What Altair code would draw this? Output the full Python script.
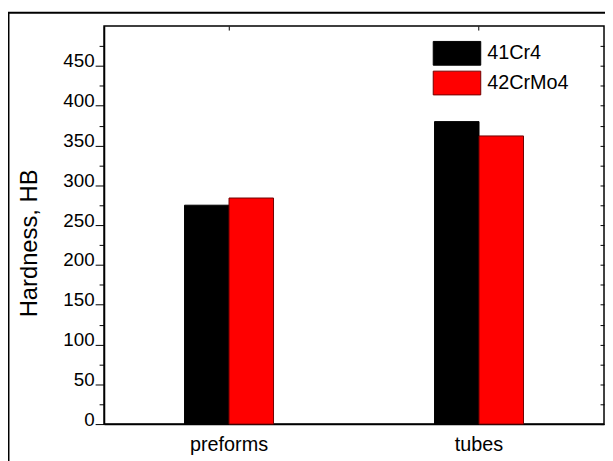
import altair as alt
import pandas as pd

categories = ["preforms", "tubes"]
series = ["41Cr4", "42CrMo4"]
hardness_41Cr4 = [275, 380]
hardness_42CrMo4 = [284, 362]
fill_colors = ["#000000", "#ff0000"]
stroke_colors = ["#000000", "#700000"]
y_tick_values = list(range(0, 500, 25))

rows = []
for i, c in enumerate(categories):
    rows.append({"sample": c, "steel": series[0], "hb": hardness_41Cr4[i]})
    rows.append({"sample": c, "steel": series[1], "hb": hardness_42CrMo4[i]})
df = pd.DataFrame(rows)

FONT = "Liberation Sans"
W, H = 505, 402

xscale = alt.Scale(domain=categories, paddingInner=0.644, paddingOuter=0.322)
yscale = alt.Scale(domain=[0, 500], nice=False, zero=True)
offscale = alt.Scale(domain=series, paddingInner=0, paddingOuter=0)

color = alt.Color(
    "steel:N",
    scale=alt.Scale(domain=series, range=fill_colors),
    legend=alt.Legend(
        title=None,
        orient="none",
        legendX=344,
        legendY=15,
        symbolType="M-2,-1H2V1H-2Z",
        symbolSize=576,
        symbolStrokeColor="#000000",
        symbolStrokeWidth=1,
        symbolOpacity=1,
        labelFont=FONT,
        labelFontSize=20,
        labelColor="#000000",
        labelOffset=18,
        padding=0,
        rowPadding=1,
    ),
)
stroke = alt.Stroke(
    "steel:N", scale=alt.Scale(domain=series, range=stroke_colors), legend=None
)

left_axis = alt.Axis(
    values=y_tick_values,
    labelExpr="datum.value % 50 === 0 ? datum.label : ''",
    tickSize=alt.condition("datum.value % 50 === 0", alt.value(9), alt.value(5)),
    tickColor="#000000",
    tickWidth=1,
    domainColor="#000000",
    domainWidth=1.5,
    grid=False,
    labelFont=FONT,
    labelFontSize=19,
    labelColor="#000000",
    labelPadding=1,
    labelBaseline="alphabetic",
    labelOffset=1,
    title="Hardness, HB",
    titleFont=FONT,
    titleFontSize=24,
    titleFontWeight="normal",
    titleColor="#000000",
    titleAngle=270,
    titleX=-75,
    titleY=219,
    titleAlign="center",
    titleBaseline="middle",
)

bottom_axis = alt.Axis(
    title=None,
    ticks=False,
    domainColor="#000000",
    domainWidth=1.5,
    labelFont=FONT,
    labelFontSize=20,
    labelColor="#000000",
    labelPadding=11,
    labelAngle=0,
    grid=False,
)

right_axis = alt.Axis(
    orient="left",
    offset=-W,
    values=y_tick_values,
    labels=False,
    domain=False,
    grid=False,
    tickSize=4,
    tickColor="#000000",
    title=None,
)

top_axis = alt.Axis(
    orient="bottom",
    offset=-H,
    labels=False,
    domain=False,
    grid=False,
    tickSize=4,
    tickColor="#000000",
    title=None,
)

bars = alt.Chart(df).mark_bar(strokeWidth=1).encode(
    x=alt.X("sample:N", scale=xscale, axis=bottom_axis, sort=categories),
    xOffset=alt.XOffset("steel:N", scale=offscale, sort=series),
    y=alt.Y("hb:Q", scale=yscale, axis=left_axis),
    color=color,
    stroke=stroke,
)

ghost = alt.Chart(df).mark_bar(opacity=0).encode(
    x=alt.X("sample:N", scale=xscale, axis=top_axis, sort=categories),
    xOffset=alt.XOffset("steel:N", scale=offscale, sort=series),
    y=alt.Y("hb:Q", scale=yscale, axis=right_axis),
)

frame = alt.Chart(alt.Data(values=[{}])).mark_rect(
    filled=False, stroke="#000000", strokeWidth=2
).encode(
    x=alt.value(-96.5), x2=alt.value(520), y=alt.value(-13.5), y2=alt.value(470)
)

chart = (
    alt.layer(bars, ghost, frame)
    .resolve_axis(x="independent", y="independent")
    .properties(
        width=W,
        height=H,
        autosize=alt.AutoSizeParams(type="none"),
        padding={"left": 97, "top": 16, "right": 1, "bottom": 35},
        background="#ffffff",
    )
    .configure_view(stroke="#000000", strokeWidth=1.5)
)

chart.save("out.html", embed_options={"renderer": "svg", "actions": False})
